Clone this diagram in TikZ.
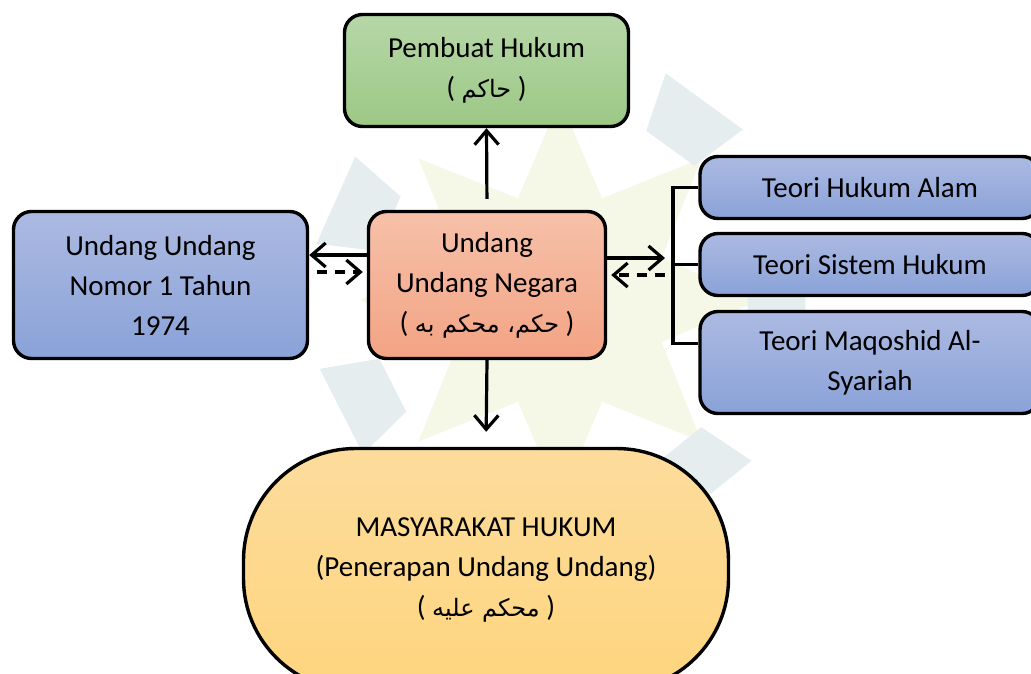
\documentclass[tikz,border=0pt]{standalone}
\usepackage{fontspec}
\setmainfont{Carlito}
\newfontfamily\arabicfont[Script=Arabic]{DejaVu Sans}
\TeXXeTstate=1
\usetikzlibrary{arrows.meta}
\definecolor{gtop}{HTML}{B6D7A8}
\definecolor{gbot}{HTML}{9CC885}
\definecolor{stop}{HTML}{F6C1A9}
\definecolor{sbot}{HTML}{F3A384}
\definecolor{btop}{HTML}{ACBAE2}
\definecolor{bbot}{HTML}{8AA2D8}
\definecolor{ytop}{HTML}{FDDC9C}
\definecolor{ybot}{HTML}{FED57E}
\definecolor{wmblue}{HTML}{E6EDEF}
\definecolor{wmyel}{HTML}{F5F8E6}
\newcommand{\artext}[1]{{\arabicfont\fontsize{24}{40}\selectfont\beginR #1\endR}}
\begin{document}
\begin{tikzpicture}[x=1pt,y=-1pt,
  box/.style={draw=black, line width=3.4pt, rounded corners=18pt, align=center,
    font=\fontsize{29}{40}\selectfont, inner sep=0pt},
  greenbox/.style={box, top color=gtop, bottom color=gbot},
  salmonbox/.style={box, top color=stop, bottom color=sbot},
  bluebox/.style={box, top color=btop, bottom color=bbot},
  yellowbox/.style={box, top color=ytop, bottom color=ybot},
  tip/.style={-{Straight Barb[length=14pt,width=24pt,line width=3.2pt]}},
  arr/.style={line width=3.2pt, tip},
  darr/.style={line width=3.2pt, tip, dash pattern=on 10pt off 8pt},
  link/.style={line width=3.2pt}]
\useasboundingbox (0,0) rectangle (1031,673);
\fill[white] (0,0) rectangle (1031,673);
% faint watermark
\begin{scope}[shift={(560,300)}]
  \fill[wmyel] (0:200) \foreach \a in {22.5,45,...,337.5}{ -- (\a:{mod(round(\a/22.5),2)==1 ? 110 : 200})} -- cycle;
  \foreach \a in {0,51,102,153,204,255,306}{
    \fill[wmblue] (\a-9:190) -- (\a+9:190) -- (\a+11:250) -- (\a-11:250) -- cycle;
  }
\end{scope}
% nodes
\node[greenbox, minimum width=284pt, minimum height=112pt] (maker) at (486.5,70.5)
  {Pembuat Hukum\\( \artext{حاكم} )};
\node[salmonbox, minimum width=237pt, minimum height=147pt] (law) at (487,285)
  {Undang\\Undang Negara\\( \artext{حكم، محكم به} )};
\node[bluebox, minimum width=294pt, minimum height=147pt] (uu) at (160.5,285)
  {Undang Undang\\Nomor 1 Tahun\\1974};
\node[bluebox, minimum width=340pt, minimum height=62pt] (t1) at (870,187.5) {Teori Hukum Alam};
\node[bluebox, minimum width=340pt, minimum height=62pt] (t2) at (870,264.5) {Teori Sistem Hukum};
\node[bluebox, minimum width=340pt, minimum height=102pt] (t3) at (870,362.5) {Teori Maqoshid Al-\\Syariah};
\node[yellowbox, rounded corners=112pt, minimum width=485pt, minimum height=242pt] (soc) at (486,569.5)
  {MASYARAKAT HUKUM\\(Penerapan Undang Undang)\\( \artext{محكم عليه} )};
% bracket
\coordinate (bx) at (673,0);
\coordinate (t3w) at ([yshift=19pt]t3.west);
\draw[link] (t1.west) -| (bx |- t3w) -- (t3w);
\draw[link] (t2.west) -- (t2.west -| bx);
% arrows
\draw[arr, shorten <=11pt] (law.north) -- (maker.south);
\draw[arr, shorten >=15pt] (law.south) -- (soc.north);
\draw[arr] ([yshift=30pt]law.west) -- ([yshift=30pt]uu.east);
\draw[darr, shorten <=8pt, shorten >=4pt] ([yshift=13pt]uu.east) -- ([yshift=13pt]law.west);
\draw[arr, shorten >=8pt] ([yshift=27pt]law.east) -- ([yshift=27pt]law.east -| bx);
\draw[darr, shorten <=8pt, shorten >=4pt] ([yshift=10pt]law.east -| bx) -- ([yshift=10pt]law.east);
\end{tikzpicture}
\end{document}
